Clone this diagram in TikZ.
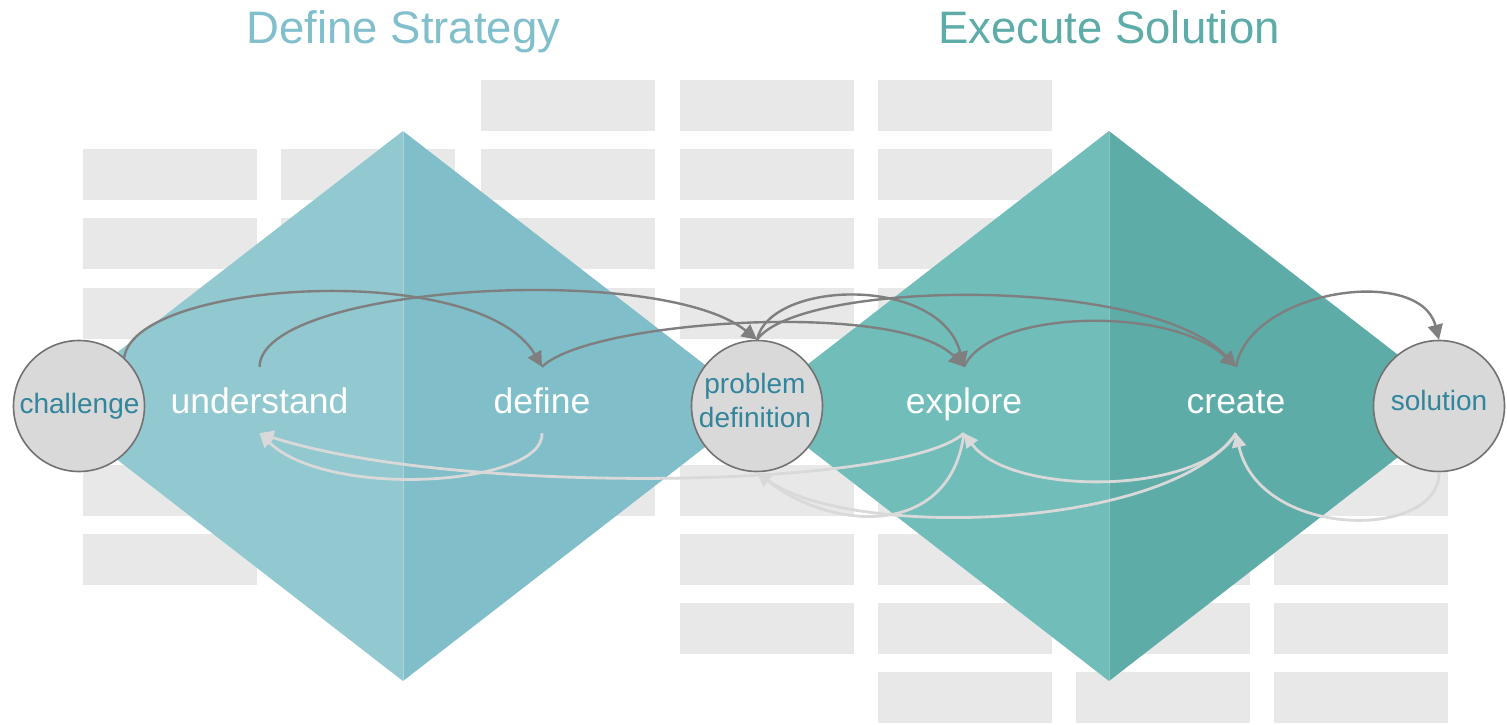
\documentclass[tikz,border=0pt]{standalone}
\usepackage{fontspec}
\setmainfont{Liberation Sans}
\usetikzlibrary{arrows.meta}
\definecolor{rectgray}{HTML}{E8E8E8}
\definecolor{dsL}{HTML}{92C8D0}
\definecolor{dsR}{HTML}{80BFC9}
\definecolor{esL}{HTML}{70BDBA}
\definecolor{esR}{HTML}{5DACA8}
\definecolor{darkarr}{HTML}{7F7F7F}
\definecolor{lightarr}{HTML}{D9D9D9}
\definecolor{circfill}{HTML}{D9D9D9}
\definecolor{circline}{HTML}{767171}
\definecolor{circtext}{HTML}{31859C}
\definecolor{titleA}{HTML}{80BFCB}
\definecolor{titleB}{HTML}{5DACA8}
\begin{document}
\begin{tikzpicture}[x=1pt,y=-1pt,
  cell/.style={fill=rectgray},
  hub/.style={circle,draw=circline,line width=1.6pt,fill=circfill,minimum size=131pt,inner sep=0pt},
  hubtext/.style={text=circtext,font=\fontsize{28}{34}\selectfont,inner sep=0pt,align=center},
  stage/.style={text=white,font=\fontsize{35.5}{40}\selectfont,inner sep=0pt,text height=46pt,text depth=20pt,anchor=base},
  fwd/.style={draw=darkarr,line width=2.4pt,-{Triangle[length=15pt,width=15pt]}},
  back/.style={draw=lightarr,line width=2.8pt,-{Triangle[length=14pt,width=14pt]}},
  title/.style={font=\fontsize{45.5}{50}\selectfont,inner sep=0pt,anchor=base}
]
\useasboundingbox (0,0) rectangle (1507,725);
\fill[white] (0,0) rectangle (1507,725);
% background grid of grey cells
\foreach \x/\y in {83/149,83/218,83/288,83/465,83/534,
  281/149,281/218,281/288,
  481/80,481/149,481/218,481/288,481/465,
  680/80,680/149,680/218,680/288,680/465,680/534,680/603,
  878/80,878/149,878/218,878/288,878/465,878/534,878/603,878/672,
  1076/534,1076/603,1076/672,
  1274/465,1274/534,1274/603,1274/672}
  \fill[cell] (\x,\y) rectangle ++(174,51);
% diamonds
\fill[dsL] (403,131) -- (48,406) -- (403,681) -- cycle;
\fill[dsR] (403,131) -- (758,406) -- (403,681) -- cycle;
\draw[white,opacity=0.35,line width=1pt] (403,131) -- (403,681);
\fill[esL] (1109,131) -- (754,406) -- (1109,681) -- cycle;
\fill[esR] (1109,131) -- (1464,406) -- (1109,681) -- cycle;
\draw[white,opacity=0.3,line width=1pt] (1109,131) -- (1109,681);
% titles
\node[title,text=titleA] (t1) at (403.5,44) {Define Strategy};
\node[title,text=titleB] (t2) at (1109,44) {Execute Solution};
% hubs
\node[hub] (challenge) at (79,406) {};
\node[hubtext,anchor=base] (challengetext) at (79.5,413) {challenge};
\node[hub] (pd) at (757,406) {};
\node[hubtext] (pdtext) at (755,400) {problem\\definition};
\node[hub] (solution) at (1439,406) {};
\node[hubtext,anchor=base] (solutiontext) at (1439,410) {solution};
% stages
\node[stage] (understand) at (259.5,413) {understand};
\node[stage] (define) at (542,413) {define};
\node[stage] (explore) at (964,413) {explore};
\node[stage] (create) at (1236,413) {create};
% feedback (light) arrows
\draw[back] (define.south) .. controls +(3,52) and +(70,67) .. (understand.south);
\draw[back] (explore.south) .. controls +(-64,57) and +(190,62) .. (understand.south);
\draw[back] (create.south) .. controls +(-66,97) and +(93,68) .. (pd.south);
\draw[back] (explore.south) .. controls +(-14,107) and +(73,58) .. (pd.south);
\draw[back] (create.south) .. controls +(-36,63) and +(46,63) .. (explore.south);
\draw[back] (solution.south) .. controls +(1,68) and +(24,107) .. (create.south);
% forward (dark) arrows
\draw[fwd] (challenge.47) .. controls +(11,-78) and +(-62,-107) .. (define.north);
\draw[fwd] (understand.north) .. controls +(2,-82) and +(-97,-78) .. (pd.north);
\draw[fwd] (define.north) .. controls +(48,-47) and +(-64,-67) .. (explore.north);
\draw[fwd] (pd.north) .. controls +(13,-60) and +(-24,-92) .. (explore.north);
\draw[fwd] (pd.north) .. controls +(43,-60) and +(-86,-92) .. (create.north);
\draw[fwd] (explore.north) .. controls +(26,-57) and +(-66,-62) .. (create.north);
\draw[fwd] (create.north) .. controls +(14,-77) and +(-19,-75) .. (solution.north);
\end{tikzpicture}
\end{document}
